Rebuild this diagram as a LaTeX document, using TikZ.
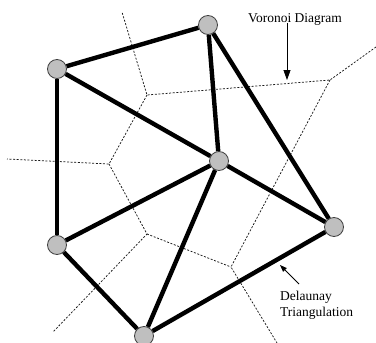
\documentclass[tikz,border=0pt]{standalone}
\usepackage{fontspec}
\setmainfont{Liberation Serif}
\usetikzlibrary{arrows.meta}

\begin{document}
\begin{tikzpicture}[
    x=1pt, y=-1pt,
    font=\fontsize{13.5}{15.5}\selectfont,
    site/.style={circle, draw=black!75, line width=0.8pt, fill=black!25,
      minimum size=19pt, inner sep=0pt},
    edge/.style={line width=4.4pt, black},
    cell/.style={line width=0.75pt, dash pattern=on 2pt off 1.6pt, black!90},
    arrow/.style={-{Triangle[length=10pt, width=7pt]}, line width=0.8pt},
    smallarrow/.style={-{Triangle[length=7pt, width=5pt]}, line width=0.8pt}
  ]
    \useasboundingbox (0,0) rectangle (376,343);

    % voronoi cells
    \coordinate (v1) at (330,80);
    \coordinate (v2) at (147,95);
    \coordinate (v3) at (231,267);
    \coordinate (v4) at (109,164);
    \coordinate (v5) at (147,234);
    \coordinate (endne) at (376,47);
    \coordinate (endn) at (122,12);
    \coordinate (endw) at (7,159);
    \coordinate (endsw) at (53,332);
    \coordinate (endse) at (277,343);
    \draw[cell] (endne) -- (v1) -- (v2) -- (endn);
    \draw[cell] (v1) -- (v3) -- (endse);
    \draw[cell] (v2) -- (v4) -- (endw);
    \draw[cell] (v4) -- (v5) -- (endsw);
    \draw[cell] (v5) -- (v3);

    % sites
    \node[site] (nw) at (57,69) {};
    \node[site] (n) at (208,25) {};
    \node[site] (mid) at (219,161) {};
    \node[site] (sw) at (57,245) {};
    \node[site] (e) at (334,227) {};
    \node[site] (s) at (144,336) {};

    % delaunay triangulation
    \draw[edge] (nw) -- (n);
    \draw[edge] (nw) -- (mid);
    \draw[edge] (nw) -- (sw);
    \draw[edge] (n) -- (mid);
    \draw[edge] (n) -- (e);
    \draw[edge] (mid) -- (sw);
    \draw[edge] (mid) -- (e);
    \draw[edge] (mid) -- (s);
    \draw[edge] (sw) -- (s);
    \draw[edge] (s) -- (e);

    % labels
    \node[anchor=base, inner sep=0pt] (vlabel) at (295,22) {Voronoi Diagram};
    \coordinate (vtip) at (287,80);
    \draw[arrow] (vlabel.south -| vtip) ++(0,-2) -- (vtip);

    \node[anchor=base west, inner sep=0pt, align=left] (dlabel) at (280,316)
      {Delaunay\\Triangulation};
    \coordinate (dtail) at (299,284);
    \coordinate (dtip) at (280,265);
    \draw[smallarrow] (dtail) -- (dtip);
\end{tikzpicture}
\end{document}
